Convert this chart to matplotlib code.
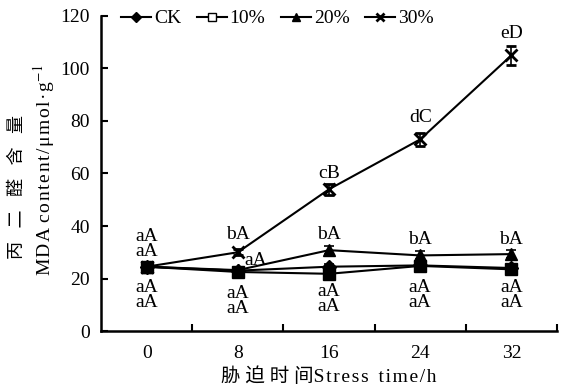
import matplotlib
matplotlib.use("Agg")
import matplotlib.pyplot as plt

plt.rcParams['font.family'] = ['Liberation Serif', 'Noto Sans CJK SC']
plt.rcParams['mathtext.fontset'] = 'stix'

# stress time categories
times = ['0', '8', '16', '24', '32']

# MDA content of each treatment
ck = [24.5, 23.0, 24.5, 25.0, 24.0]
p10 = [24.5, 22.5, 21.8, 24.8, 23.5]
p20 = [24.5, 23.2, 30.8, 28.8, 29.3]
p30 = [24.5, 30.0, 54.0, 73.0, 105.0]

ck_err = [1.0, 1.0, 1.2, 1.0, 1.0]
p10_err = [1.0, 1.0, 1.0, 1.0, 1.0]
p20_err = [1.0, 1.0, 1.5, 1.5, 1.5]
p30_err = [1.0, 1.2, 2.0, 2.5, 3.5]

# significance letters (category index, y, text)
lab_x = [0, 0, 1, 1.2, 1, 2, 2, 2, 3, 3, 3, 4, 4, 4]
lab_y = [33.1, 13.75, 36.6, 27, 11.45, 60, 36.6, 12.05, 81.5, 34.7, 13.75, 113.5, 34.7, 13.75]
lab_t = ['aA\naA', 'aA\naA', 'bA', 'aA', 'aA\naA', 'cB', 'bA', 'aA\naA',
         'dC', 'bA', 'aA\naA', 'eD', 'bA', 'aA\naA']


def spread(s, gap='\u200a'):
    return gap.join(s)


fig = plt.figure(figsize=(5.71, 3.89), dpi=100)
ax = fig.add_axes([0.177, 0.149, 0.7985, 0.81])

x = list(range(len(times)))
style = dict(color='black', lw=1.5, capsize=3.5, elinewidth=1.2, capthick=1.2)
ax.errorbar(x, p30, yerr=p30_err, marker='x', ms=8, mew=2, label='30%', **style)
ax.errorbar(x, p20, yerr=p20_err, marker='^', ms=8, label='20%', **style)
ax.errorbar(x, p10, yerr=p10_err, marker='s', ms=8, mfc='black', label='10%', **style)
ax.errorbar(x, ck, yerr=ck_err, marker='D', ms=7, label='CK', **style)

for i in range(len(lab_t)):
    ax.text(lab_x[i], lab_y[i], lab_t[i], ha='center', va='center', fontsize=14,
            linespacing=0.85)

ax.set_xlim(-0.5, 4.5)
ax.set_ylim(0, 120)
ax.set_xticks(x)
ax.set_xticklabels(times)
ax.set_xticks([0.5, 1.5, 2.5, 3.5, 4.5], minor=True)
ax.tick_params(axis='x', which='major', length=0, pad=10, labelsize=14)
ax.tick_params(axis='x', which='minor', direction='in', length=5, width=1.5)
ax.set_yticks(range(0, 121, 20))
ax.tick_params(axis='y', direction='in', length=5, width=1.5, labelsize=14, pad=8)
for s in ['top', 'right']:
    ax.spines[s].set_visible(False)
for s in ['left', 'bottom']:
    ax.spines[s].set_linewidth(1.8)

ax.set_xlabel('胁 迫 时 间' + spread('Stress') + '  ' + spread('time/h'), fontsize=14, labelpad=4)
fig.text(0.031, 0.52, '丙   二   醛   含   量', rotation=90, ha='center', va='center', fontsize=13)
fig.text(0.077, 0.563, spread('MDA') + ' ' + spread('content/μmol·g') + r'$^{-1}$',
         rotation=90, ha='center', va='center', fontsize=14)

h, l = ax.get_legend_handles_labels()
h = [hh[0] for hh in h[::-1]]
leg = ax.legend(h, l[::-1], ncol=4, loc='upper left',
                bbox_to_anchor=(0.005, 1.075), frameon=False, fontsize=14,
                handlelength=1.55, handletextpad=0.15, columnspacing=0.8, markerscale=0.8)
leg.legend_handles[1].set_markerfacecolor('white')

fig.savefig('out.png', dpi=100)
